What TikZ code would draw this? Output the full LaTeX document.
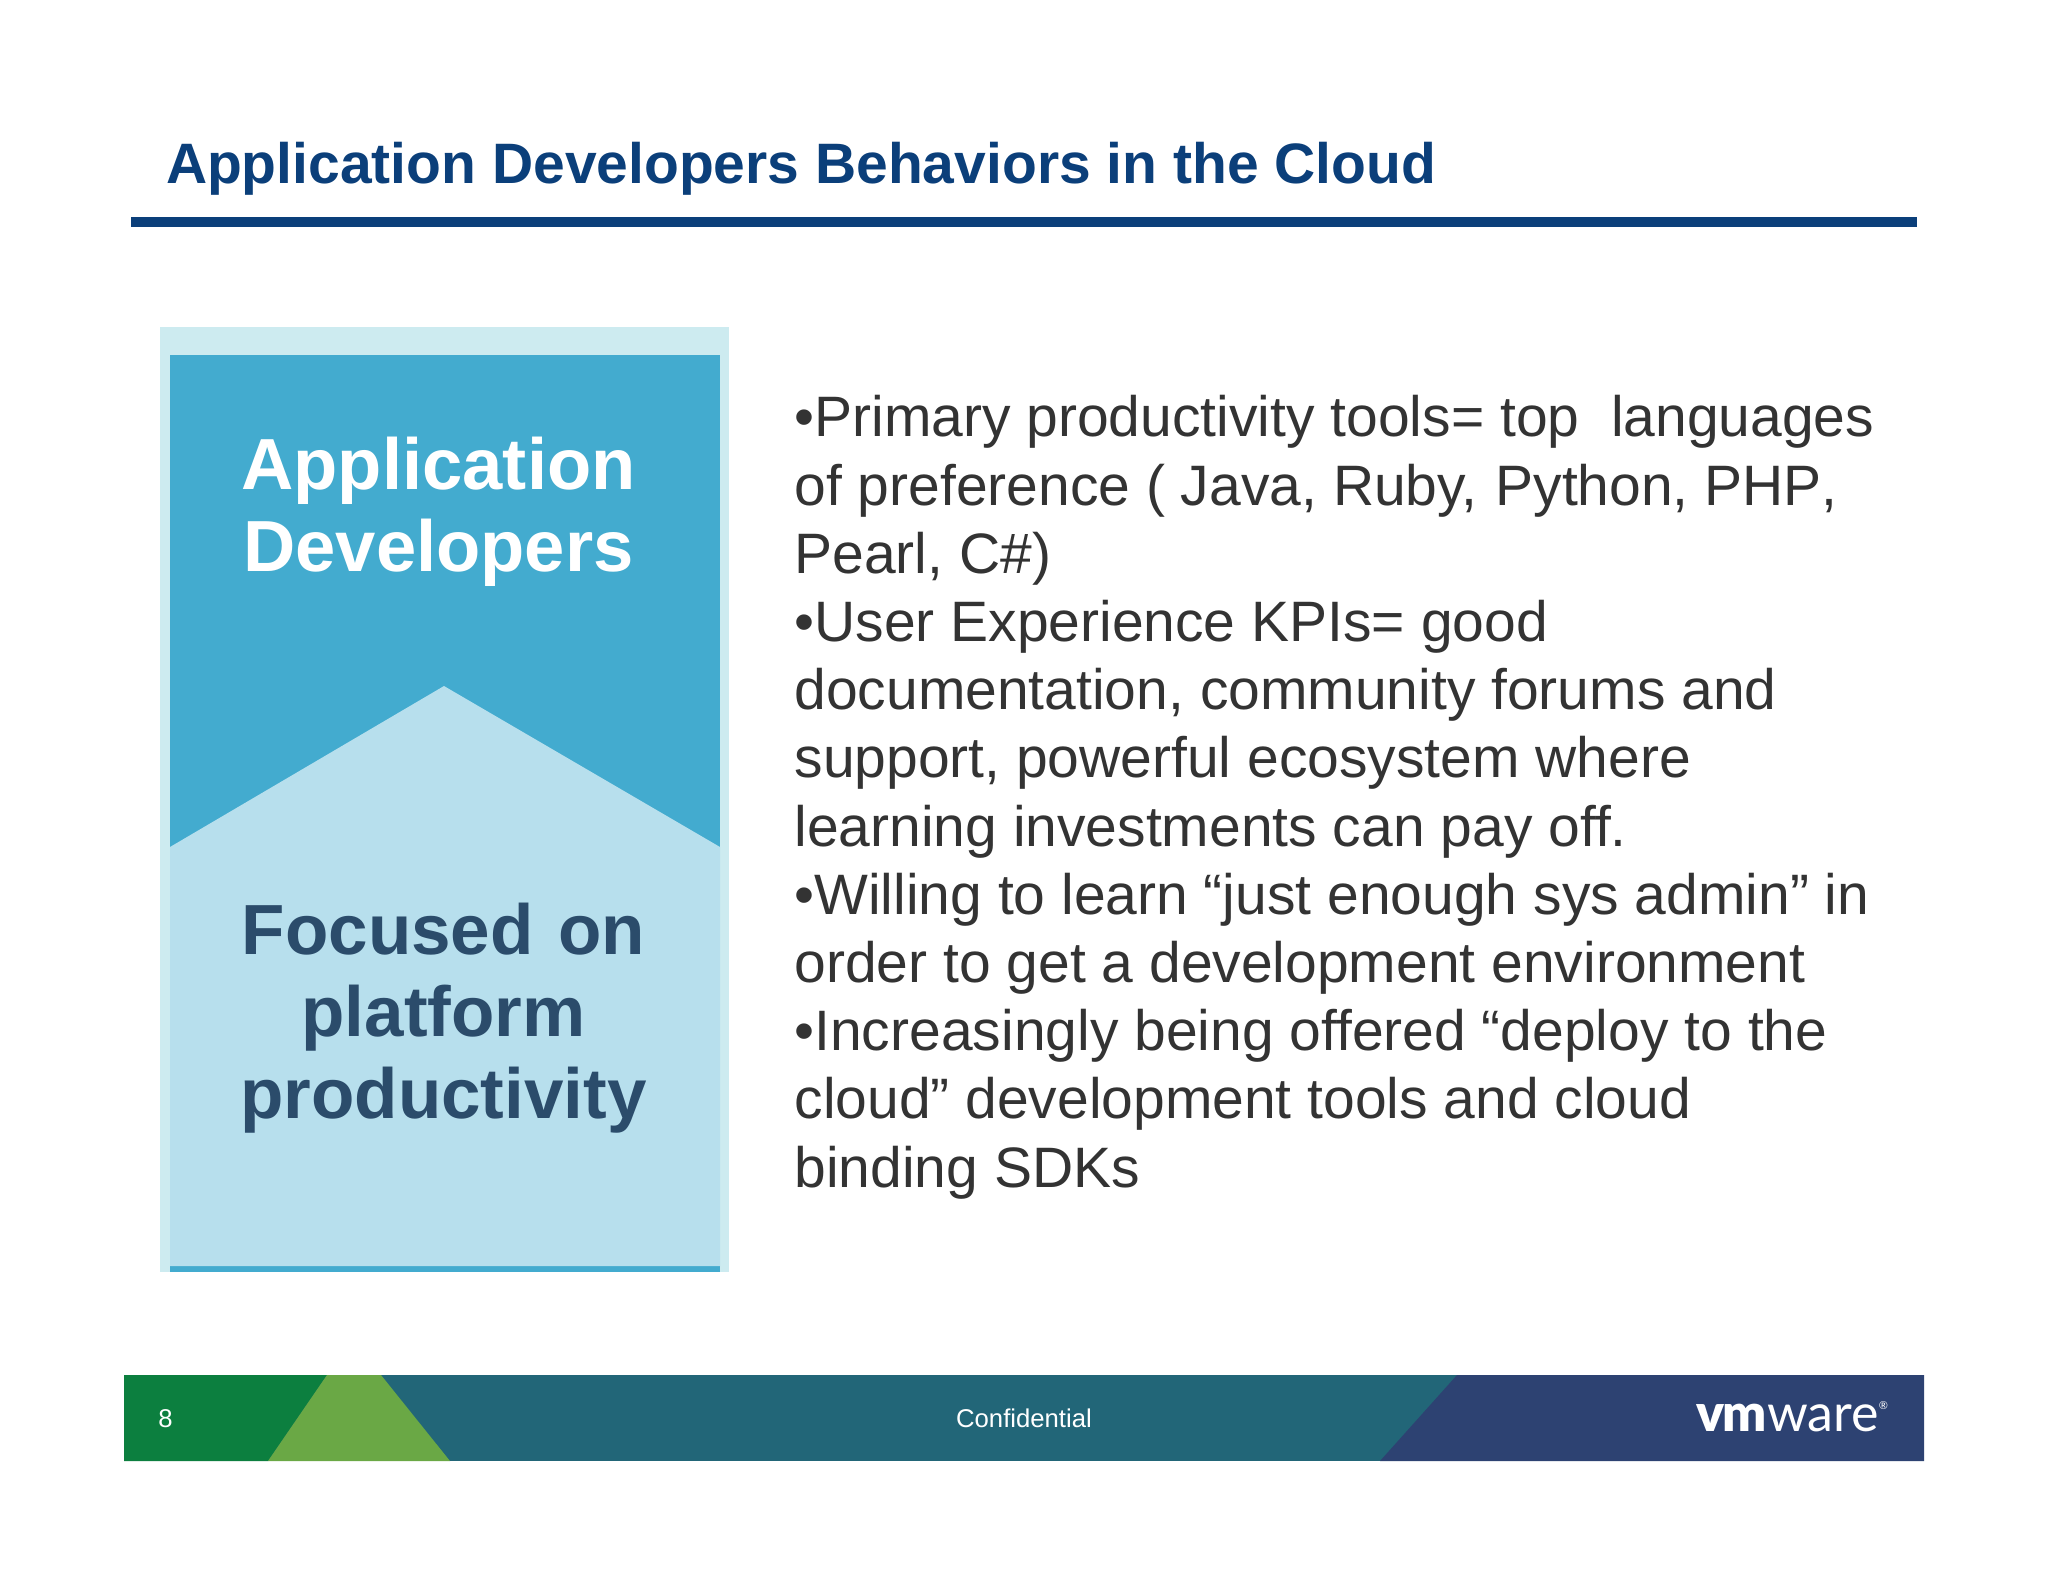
\documentclass[tikz,border=0pt]{standalone}
\usepackage{fontspec}
\setmainfont{Liberation Sans}
\newfontfamily\logofont{Lato Black}
\newfontfamily\logolight{Lato}
\definecolor{titleblue}{HTML}{0B3F7A}
\definecolor{palebox}{HTML}{CDEBF0}
\definecolor{bandblue}{HTML}{43ABCF}
\definecolor{lightband}{HTML}{B7DFED}
\definecolor{darktext}{HTML}{2B4C6B}
\definecolor{bodytext}{HTML}{333333}
\definecolor{footgreen}{HTML}{0C7F3F}
\definecolor{foottri}{HTML}{6AA845}
\definecolor{footteal}{HTML}{226678}
\definecolor{footnavy}{HTML}{2D4272}
\tikzset{
  plain/.style={draw=none,inner sep=0pt,outer sep=0pt},
  foottext/.style={plain,text=white,font=\fontsize{25.7}{28}\selectfont}
}
\begin{document}
\begin{tikzpicture}[x=1pt,y=-1pt]
\useasboundingbox (0,0) rectangle (2048,1582);
\fill[white] (0,0) rectangle (2048,1582);
% title
\node[plain,anchor=base west,text=titleblue,font=\fontsize{57}{66}\selectfont\bfseries] (title) at (166,183) {Application Developers Behaviors in the Cloud};
\fill[titleblue] (131,217) rectangle (1917,227);
% panel
\fill[palebox] (160,327) rectangle (729,1272);
\fill[bandblue] (170,355) rectangle (720,1272);
\fill[lightband] (170,847) -- (444,686) -- (720,847) -- (720,1266) -- (170,1266) -- cycle;
\node[plain,align=center,text=white,font=\fontsize{72.4}{82}\selectfont\bfseries,anchor=center] (head) at (438.5,512) {Application\\Developers};
\node[plain,align=center,text=darktext,font=\fontsize{71}{82}\selectfont\bfseries,anchor=center] (focus) at (443.5,1018) {Focused\hspace{5pt} on\\platform\\productivity};
% body
\node[plain,anchor=north west,align=left,text=bodytext,font=\fontsize{57}{68.2}\selectfont] (body) at (794.5,395.5) {%
•Primary productivity tools= top \ languages\\
of preference ( Java, Ruby,\kern2pt{} Python, PHP\kern0pt,\\
Pearl, C\#)\\
•User Experience KPIs= good\\
documentation, community forums and\\
support, powerful ecosystem where\\
learning investments can pay off.\\
•Willing to learn “just enough sys admin” in\\
order to get a development environment\\
•Increasingly being offered “deploy to the\\
cloud” development tools and cloud\\
binding SDKs};
% footer
\fill[footteal] (124,1375) rectangle (1924,1461);
\fill[footgreen] (124,1375) -- (327,1375) -- (268,1461) -- (124,1461) -- cycle;
\fill[foottri] (327,1375) -- (381,1375) -- (450,1461) -- (268,1461) -- cycle;
\fill[footnavy] (1457,1375) -- (1924,1375) -- (1924,1461) -- (1380,1461) -- cycle;
\node[foottext,anchor=center] (pagenum) at (165.5,1419) {8};
\node[foottext,anchor=center] (conf) at (1024,1418) {Confidential};
\node[plain,anchor=base east,text=white,font=\fontsize{52}{55}\selectfont] (logo) at (1888,1431) {{\logofont v\kern-2pt m}{\logolight ware}\raisebox{22pt}{\logolight\fontsize{11}{11}\selectfont ®}};
\end{tikzpicture}
\end{document}
